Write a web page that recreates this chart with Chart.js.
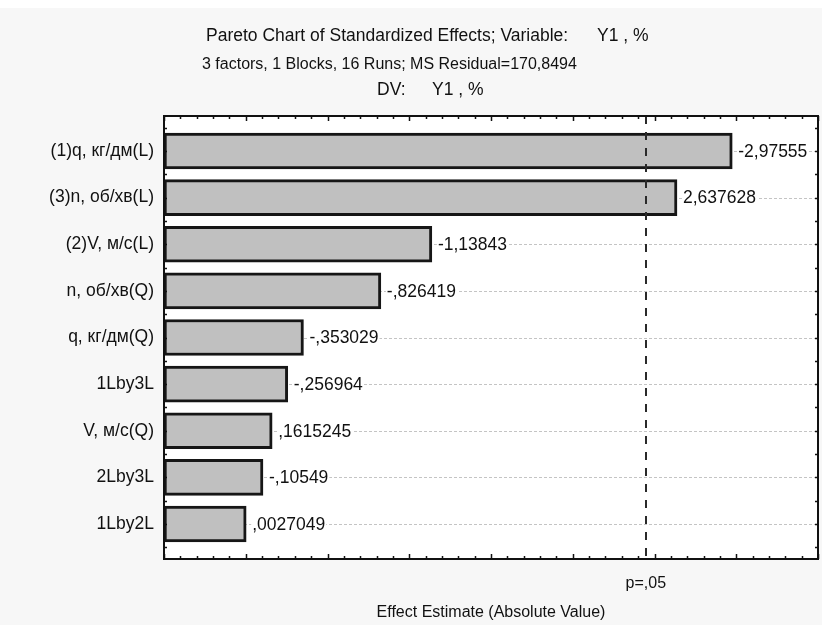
<!DOCTYPE html>
<html>
<head>
<meta charset="utf-8">
<script src="https://cdn.jsdelivr.net/npm/chart.js@4"></script>
<style>
  html, body { margin: 0; padding: 0; background: #f7f7f7; }
  canvas { display: block; }
</style>
</head>
<body>
<canvas id="chart" width="822" height="625"></canvas>
<script>
// Effects, ordered by absolute size
const categories = ['(1)q, кг/дм(L)', '(3)n, об/хв(L)', '(2)V, м/с(L)', 'n, об/хв(Q)', 'q, кг/дм(Q)', '1Lby3L', 'V, м/с(Q)', '2Lby3L', '1Lby2L'];
const effects = [-2.97555, 2.637628, -1.13843, -0.826419, -0.353029, -0.256964, 0.1615245, -0.10549, 0.0027049];

// Critical t value for p = .05 (df = 6) and its label
const pCritical = 2.446912;
const pLabel = 'p=,05';

// Title lines; the first and last are split into a caption and a variable name
const titleLine1 = ['Pareto Chart of Standardized Effects; Variable:', 'Y1 , %'];
const titleLine2 = '3 factors, 1 Blocks, 16 Runs; MS Residual=170,8494';
const titleLine3 = ['DV:', 'Y1 , %'];
const xTitle = 'Effect Estimate (Absolute Value)';
const xRange = [-0.5, 3.5];

const FONT = '"Liberation Sans", Arial, sans-serif';
const TEXT = '#111111';

// Numbers printed in the decimal-comma style, no leading zero
function fmt(v) {
  const s = String(v).replace('.', ',');
  return s.replace(/^(-?)0,/, '$1,');
}

const decor = {
  id: 'decor',
  beforeDraw(chart) {
    const { ctx, chartArea: a } = chart;
    ctx.save();
    ctx.fillStyle = '#f7f7f7';
    ctx.fillRect(0, 0, chart.width, chart.height);
    ctx.fillStyle = '#ffffff';
    ctx.fillRect(0, 0, chart.width, 8);
    ctx.fillRect(a.left, a.top, a.right - a.left, a.bottom - a.top);
    ctx.restore();
  },
  beforeDatasetsDraw(chart) {
    // dotted guide lines through each category
    const { ctx, chartArea: a, scales: { y } } = chart;
    ctx.save();
    ctx.strokeStyle = '#c4c4c4';
    ctx.lineWidth = 1;
    ctx.setLineDash([3, 2]);
    categories.forEach((_, i) => {
      const py = Math.round(y.getPixelForValue(i)) + 0.5;
      ctx.beginPath();
      ctx.moveTo(a.left, py);
      ctx.lineTo(a.right, py);
      ctx.stroke();
    });
    ctx.restore();
  },
  afterDatasetsDraw(chart) {
    const { ctx, chartArea: a, scales: { x, y } } = chart;
    ctx.save();
    ctx.font = '17.5px ' + FONT;
    ctx.textBaseline = 'middle';
    ctx.textAlign = 'left';
    effects.forEach((v, i) => {
      const txt = fmt(v);
      const tx = x.getPixelForValue(Math.abs(v)) + 6;
      const ty = y.getPixelForValue(i);
      const w = ctx.measureText(txt).width;
      ctx.fillStyle = '#ffffff';
      ctx.fillRect(tx - 1, ty - 8, w + 2, 16);
      ctx.fillStyle = TEXT;
      ctx.fillText(txt, tx, ty + 1);
    });

    // significance line
    const px = Math.round(x.getPixelForValue(pCritical));
    ctx.strokeStyle = '#2a2a2a';
    ctx.lineWidth = 2;
    ctx.setLineDash([8, 8]);
    ctx.beginPath();
    ctx.moveTo(px, a.top);
    ctx.lineTo(px, a.bottom);
    ctx.stroke();
    ctx.setLineDash([]);

    // frame
    ctx.strokeStyle = '#111111';
    ctx.lineWidth = 2;
    ctx.strokeRect(a.left, a.top, a.right - a.left, a.bottom - a.top);

    // inward tick marks
    ctx.lineWidth = 1.5;
    ctx.beginPath();
    for (let k = Math.round(xRange[0] * 10); k <= Math.round(xRange[1] * 10); k++) {
      const tx = Math.round(x.getPixelForValue(k / 10)) + 0.5;
      const len = k % 5 === 0 ? 5 : 3;
      ctx.moveTo(tx, a.top); ctx.lineTo(tx, a.top + len);
      ctx.moveTo(tx, a.bottom); ctx.lineTo(tx, a.bottom - len);
    }
    for (let k = -1; k <= categories.length * 2 - 1; k++) {
      const ty = Math.round(y.getPixelForValue(k / 2)) + 0.5;
      ctx.moveTo(a.left, ty); ctx.lineTo(a.left + 3, ty);
      ctx.moveTo(a.right, ty); ctx.lineTo(a.right - 3, ty);
    }
    ctx.stroke();
    ctx.restore();
  },
  afterDraw(chart) {
    const { ctx } = chart;
    ctx.save();
    ctx.fillStyle = TEXT;
    ctx.textBaseline = 'middle';
    ctx.textAlign = 'left';
    ctx.font = '17.5px ' + FONT;
    ctx.fillText(titleLine1[0], 206, 36);
    ctx.fillText(titleLine1[1], 597, 36);
    ctx.font = '16px ' + FONT;
    ctx.fillText(titleLine2, 202, 65);
    ctx.font = '17.5px ' + FONT;
    ctx.fillText(titleLine3[0], 377, 90);
    ctx.fillText(titleLine3[1], 432, 90);
    ctx.restore();
  }
};

new Chart(document.getElementById('chart'), {
  type: 'bar',
  data: {
    datasets: [{
      data: effects.map((v, i) => ({ x: [xRange[0], Math.abs(v)], y: i })),
      backgroundColor: '#c0c0c0',
      borderColor: '#161616',
      borderWidth: 3,
      borderSkipped: false,
      barThickness: 36
    }]
  },
  options: {
    indexAxis: 'y',
    responsive: false,
    animation: false,
    devicePixelRatio: 1,
    layout: { padding: { top: 116, right: 4, left: 0, bottom: 0 } },
    plugins: { legend: { display: false }, tooltip: { enabled: false } },
    scales: {
      x: {
        type: 'linear',
        min: xRange[0],
        max: xRange[1],
        grid: { display: false, drawTicks: false },
        border: { display: false },
        afterBuildTicks(scale) { scale.ticks = [{ value: pCritical }]; },
        afterFit(scale) { scale.height = 66; },
        ticks: {
          callback: () => pLabel,
          maxRotation: 0,
          autoSkip: false,
          padding: 15,
          color: TEXT,
          font: { family: FONT, size: 16 }
        },
        title: {
          display: true,
          text: xTitle,
          color: TEXT,
          font: { family: FONT, size: 16 },
          padding: { top: 0, bottom: 3 }
        }
      },
      y: {
        type: 'linear',
        offset: false,
        min: -0.75,
        max: categories.length - 0.25,
        reverse: true,
        grid: { display: false, drawTicks: false },
        border: { display: false },
        afterBuildTicks(scale) { scale.ticks = categories.map((_, i) => ({ value: i })); },
        afterFit(scale) { scale.width = 164; },
        ticks: {
          callback: (v) => categories[Math.round(v)],
          autoSkip: false,
          padding: 10,
          color: TEXT,
          font: { family: FONT, size: 17.5 }
        }
      }
    }
  },
  plugins: [decor]
});
</script>
</body>
</html>
